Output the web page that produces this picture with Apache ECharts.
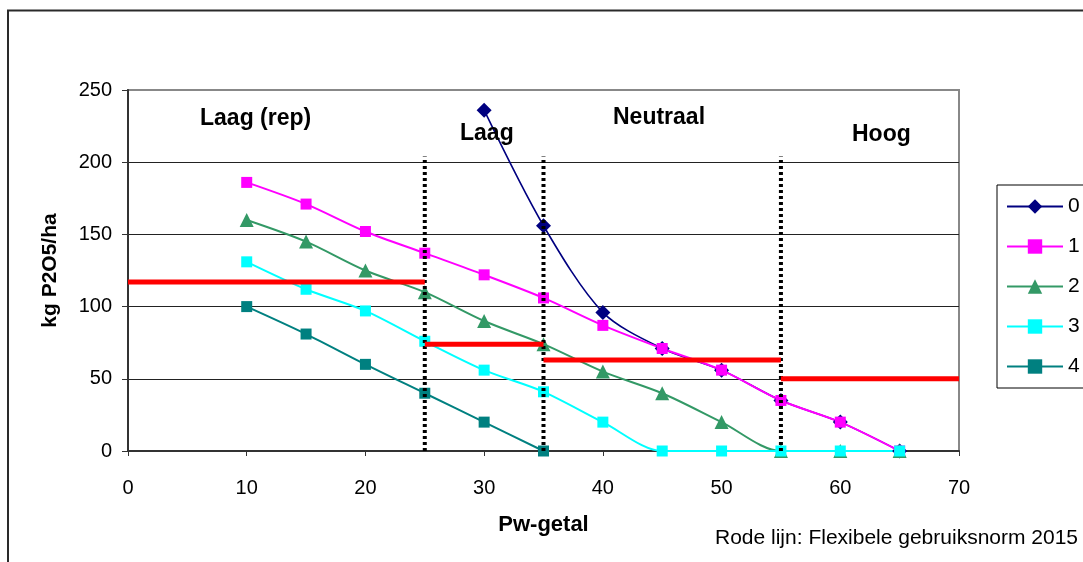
<!DOCTYPE html>
<html>
<head>
<meta charset="utf-8">
<script src="https://cdn.jsdelivr.net/npm/echarts@6/dist/echarts.min.js"></script>
<style>
  html, body { margin: 0; padding: 0; background: #fff; }
  #chart { width: 1083px; height: 562px; }
</style>
</head>
<body>
<div id="chart"></div>
<script>
// Pw-getal classes on the x axis
const pwValues = [10, 15, 20, 25, 30, 35, 40, 45, 50, 55, 60, 65];

// kg P2O5/ha per curve (null = not defined for that Pw-getal)
const curve0 = [null, null, null, null, 236, 156, 96, 71, 56, 35, 20, 0];
const curve1 = [186, 171, 152, 137, 122, 106, 87, 71, 56, 35, 20, 0];
const curve2 = [160, 145, 125, 110, 90, 74, 55, 40, 20, 0, 0, 0];
const curve3 = [131, 112, 97, 76, 56, 41, 20, 0, 0, 0, 0, 0];
const curve4 = [100, 81, 60, 40, 20, 0, null, null, null, null, null, null];

const curveNames = ['0', '1', '2', '3', '4'];
const curves = [curve0, curve1, curve2, curve3, curve4];

// Flexibele gebruiksnorm 2015: [from Pw, to Pw, kg P2O5/ha]
const normSegments = [
  [0, 25, 117],
  [25, 35, 74],
  [35, 55, 63],
  [55, 70, 50]
];

// class boundaries (dotted verticals) and their upper end
const classBoundaries = [25, 35, 55];
const boundaryTop = 204;

// class labels
const classLabels = ['Laag (rep)', 'Laag', 'Neutraal', 'Hoog'];

const xTicks = { min: 0, max: 70, step: 10 };
const yTicks = { min: 0, max: 250, step: 50 };

const FONT = '"Liberation Sans", Arial, sans-serif';

const curveStyles = [
  { color: '#000080', symbol: 'diamond', size: 15, width: 1.6 },
  { color: '#FF00FF', symbol: 'rect', size: 11, width: 2 },
  { color: '#339966', symbol: 'triangle', size: 14, width: 2 },
  { color: '#00FFFF', symbol: 'rect', size: 11, width: 2 },
  { color: '#008080', symbol: 'rect', size: 11, width: 2 }
];

function pairs(values) {
  const out = [];
  values.forEach((v, i) => { if (v !== null) out.push([pwValues[i], v]); });
  return out;
}

const series = [];

curves.forEach((vals, i) => {
  const st = curveStyles[i];
  series.push({
    name: curveNames[i],
    type: 'line',
    data: pairs(vals),
    smooth: 0.3,
    symbol: st.symbol,
    symbolSize: st.size,
    showSymbol: true,
    color: st.color,
    lineStyle: { color: st.color, width: st.width },
    itemStyle: { color: st.color },
    emphasis: { disabled: true },
    z: 2
  });
});

normSegments.forEach((seg, i) => {
  series.push({
    name: 'norm' + i,
    type: 'line',
    data: [[seg[0], seg[2]], [seg[1], seg[2]]],
    symbol: 'none',
    lineStyle: { color: '#FF0000', width: 5, cap: 'butt' },
    silent: true,
    z: 4
  });
});

classBoundaries.forEach((b, i) => {
  series.push({
    name: 'grens' + i,
    type: 'line',
    data: [[b, 0], [b, boundaryTop]],
    symbol: 'none',
    lineStyle: { color: '#000000', width: 4, type: [3, 3], cap: 'butt' },
    silent: true,
    z: 3
  });
});

const labelPos = [
  { x: 200, y: 118.5 },
  { x: 460, y: 133.5 },
  { x: 613, y: 117.5 },
  { x: 852, y: 134.5 }
];

const graphics = [
  {
    type: 'rect',
    shape: { x: 8, y: 10.5, width: 1200, height: 700 },
    style: { fill: 'none', stroke: '#2a2a2a', lineWidth: 2 },
    silent: true,
    z: 0
  }
];
classLabels.forEach((t, i) => {
  graphics.push({
    type: 'text',
    x: labelPos[i].x,
    y: labelPos[i].y,
    style: {
      text: t,
      font: 'bold 23px ' + FONT,
      fill: '#000',
      textVerticalAlign: 'middle',
      verticalAlign: 'middle'
    },
    z: 10
  });
});
graphics.push({
  type: 'text',
  x: 715,
  y: 538.5,
  style: {
    text: 'Rode lijn: Flexibele gebruiksnorm 2015',
    font: '21px ' + FONT,
    fill: '#000',
    textVerticalAlign: 'middle',
    verticalAlign: 'middle'
  },
  z: 10
});

const chart = echarts.init(document.getElementById('chart'), null, { renderer: 'canvas' });

chart.setOption({
  animation: false,
  backgroundColor: '#ffffff',
  textStyle: { fontFamily: FONT },
  grid: {
    left: 128, top: 90, right: 124, bottom: 111,
    show: true,
    borderColor: '#888888',
    borderWidth: 2,
    backgroundColor: 'transparent'
  },
  legend: {
    data: curveNames,
    orient: 'vertical',
    left: 997,
    top: 185,
    padding: [11, 40, 11, 9],
    itemWidth: 56,
    itemHeight: 18,
    itemGap: 19,
    itemTextGap: 5,
    borderColor: '#000',
    borderWidth: 1,
    textStyle: { fontSize: 21, color: '#000', fontFamily: FONT, lineHeight: 21 },
    selectedMode: false
  },
  xAxis: {
    type: 'value',
    min: xTicks.min,
    max: xTicks.max,
    interval: xTicks.step,
    name: 'Pw-getal',
    nameLocation: 'middle',
    nameGap: 63,
    nameTextStyle: { fontSize: 22, fontWeight: 'bold', color: '#000', fontFamily: FONT },
    axisLine: { onZero: false, lineStyle: { color: '#333', width: 2 } },
    axisTick: { show: true, inside: false, length: 5, lineStyle: { color: '#333', width: 1 } },
    axisLabel: { fontSize: 20, color: '#000', margin: 27, fontFamily: FONT },
    splitLine: { show: false }
  },
  yAxis: {
    type: 'value',
    min: yTicks.min,
    max: yTicks.max,
    interval: yTicks.step,
    name: 'kg P2O5/ha',
    nameLocation: 'middle',
    nameGap: 67,
    nameRotate: 90,
    nameTextStyle: { fontSize: 21, fontWeight: 'bold', color: '#000', fontFamily: FONT },
    axisLine: { show: true, lineStyle: { color: '#333', width: 2 } },
    axisTick: { show: true, inside: false, length: 6, lineStyle: { color: '#333', width: 1 } },
    axisLabel: { fontSize: 20, color: '#000', margin: 16, fontFamily: FONT },
    splitLine: { show: true, lineStyle: { color: ['#000', '#222', '#222', '#222', '#222', '#888'], width: 1 } }
  },
  graphic: graphics,
  series: series
});
</script>
</body>
</html>
